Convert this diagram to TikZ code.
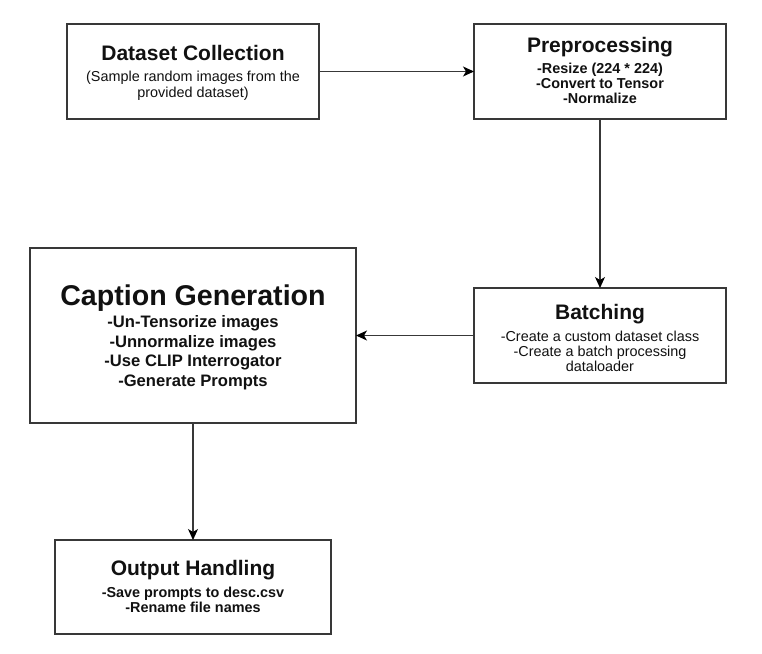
\documentclass[tikz,border=0pt]{standalone}
\usepackage{fontspec}
\setmainfont{Liberation Sans}
\usetikzlibrary{arrows.meta}
\definecolor{strk}{HTML}{383838}
\definecolor{txtc}{HTML}{111111}
\begin{document}
\begin{tikzpicture}[x=1pt,y=-1pt,
  box/.style={draw=strk,line width=1.3pt,fill=white,inner sep=0pt,outer sep=0pt},
  ttl/.style={anchor=base,inner sep=0pt,text=txtc,font=\fontsize{21}{21}\selectfont\bfseries},
  bigttl/.style={anchor=base,inner sep=0pt,text=txtc,font=\fontsize{28.6}{28.6}\selectfont\bfseries},
  txt/.style={anchor=base,inner sep=0pt,text=txtc,font=\fontsize{14.4}{14.4}\selectfont},
  btxt/.style={anchor=base,inner sep=0pt,text=txtc,font=\fontsize{14.4}{14.4}\selectfont\bfseries},
  captxt/.style={anchor=base,inner sep=0pt,text=txtc,font=\fontsize{16.6}{16.6}\selectfont\bfseries},
  conn/.style={draw=strk,line width=1.2pt,-{Stealth[length=11pt,width=10pt,inset=3pt,fill=black,color=black]}}]
\useasboundingbox (0,0) rectangle (762,653);
% boxes
\node[box,minimum width=252pt,minimum height=95pt] (dc) at (193,71.5) {};
\node[box,minimum width=252pt,minimum height=95pt] (pre) at (600,71.5) {};
\node[box,minimum width=326pt,minimum height=175pt] (cap) at (193,335.5) {};
\node[box,minimum width=252pt,minimum height=95pt] (bat) at (600,335.5) {};
\node[box,minimum width=276pt,minimum height=94pt] (out) at (193,587) {};
% Dataset Collection
\node[ttl] (dct) at (193,60.7) {Dataset Collection};
\node[txt] (dc1) at (193,81) {(Sample random images from the};
\node[txt] (dc2) at (193,97) {provided dataset)};
% Preprocessing
\node[ttl] (pret) at (600,52.3) {Preprocessing};
\node[btxt] (pre1) at (600,73.3) {-Resize (224 * 224)};
\node[btxt] (pre2) at (600,88.3) {-Convert to Tensor};
\node[btxt] (pre3) at (600,103.3) {-Normalize};
% Caption Generation
\node[bigttl] (capt) at (193,305) {Caption Generation};
\node[captxt] (cap1) at (193,327.7) {-Un-Tensorize images};
\node[captxt] (cap2) at (193,347.3) {-Unnormalize images};
\node[captxt] (cap3) at (193,366.7) {-Use CLIP Interrogator};
\node[captxt] (cap4) at (193,386.7) {-Generate Prompts};
% Batching
\node[ttl] (batt) at (600,319) {Batching};
\node[txt] (bat1) at (600,341.5) {-Create a custom dataset class};
\node[txt] (bat2) at (600,356.5) {-Create a batch processing};
\node[txt] (bat3) at (600,371.5) {dataloader};
% Output Handling
\node[ttl] (outt) at (193,575) {Output Handling};
\node[btxt] (out1) at (193,597) {-Save prompts to desc.csv};
\node[btxt] (out2) at (193,612) {-Rename file names};
% connectors
\draw[conn] (dc.east) -- (pre.west);
\draw[conn] (pre.south) -- (bat.north);
\draw[conn] (bat.west) -- (cap.east);
\draw[conn] (cap.south) -- (out.north);
\end{tikzpicture}
\end{document}
